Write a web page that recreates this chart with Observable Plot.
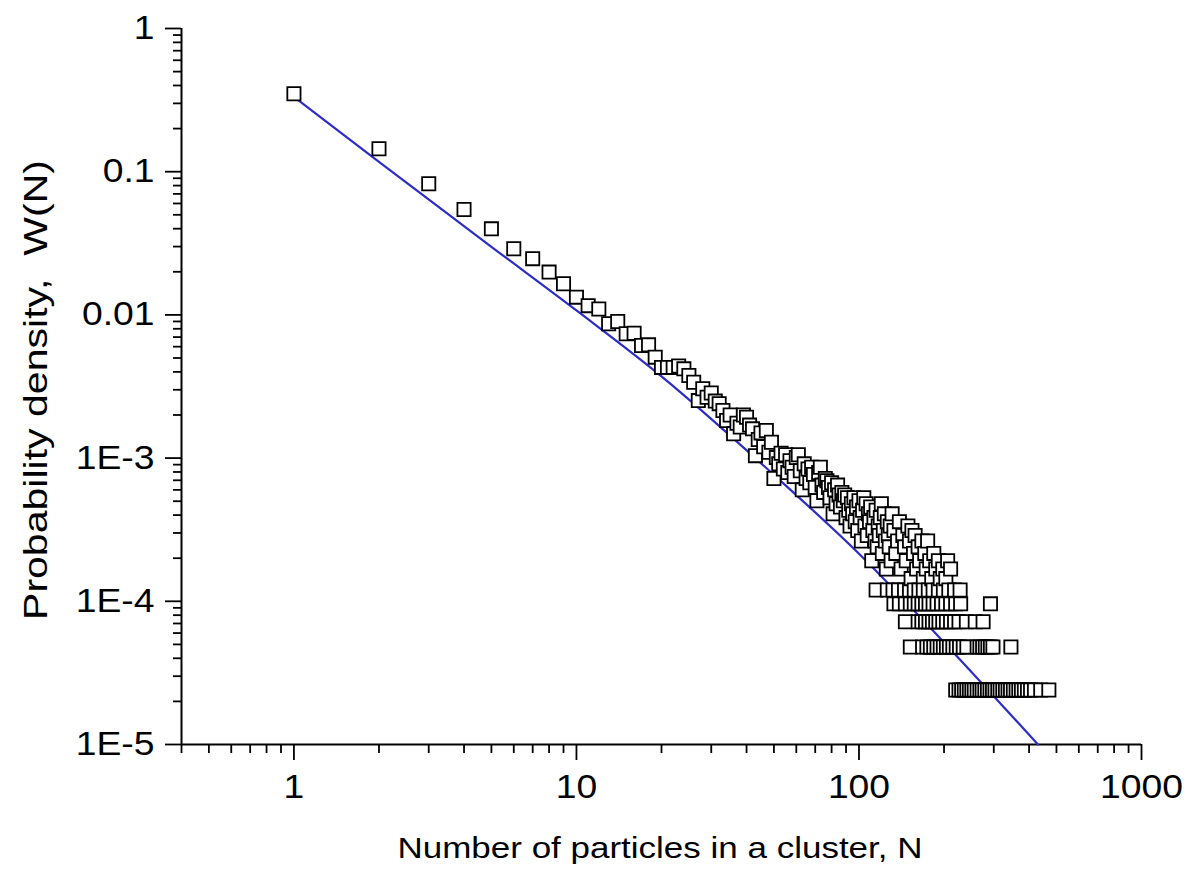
<!DOCTYPE html>
<html>
<head>
<meta charset="utf-8">
<script src="https://cdn.jsdelivr.net/npm/d3@7"></script>
<script src="https://cdn.jsdelivr.net/npm/@observablehq/plot@0.6"></script>
<style>
  html, body { margin: 0; padding: 0; background: white; }
  svg { display: block; }
</style>
</head>
<body>
<div id="chart"></div>
<script>
// ---- Data ----
// Small cluster sizes: individual probability densities
const lowN = [1,2,3,4,5,6,7,8,9,10,11,12,13,14,15,16,17,18,19,20,21,22,23,24,25,26,27,28,29,30,31,32,33,34,35,36,37,38,39,40,41,42,43,44,45,46,47,48,49];
const lowW = [0.350,0.1445,0.0823,0.0545,0.0399,0.0290,0.0247,0.0199,0.0165,0.0133,0.0116,0.0110,0.00867,0.0090,0.00738,0.00745,0.00611,0.00618,0.00507,0.0043,0.0043,0.0043,0.0044,0.0042,0.00377,0.00339,0.00252,0.00305,0.00266,0.00285,0.00250,0.00240,0.00215,0.00183,0.00200,0.00148,0.00175,0.00165,0.00200,0.00193,0.00170,0.00160,0.00104,0.00135,0.00150,0.00120,0.00156,0.00110,0.00129];

// Probability of a single observed cluster (quantum of W in the tail)
const unitW = 2.4e-5;

// Mid range: counts of clusters (W = count * unitW)
const midN = [50,51,52,53,54,55,56,57,58,59,60,61,62,63,64,65,66,67,68,69,70,71,72,73,74,75,76,77,78,79,80,81,82,83,84,85,86,87,88,89,90,91,92,93,94,95,96,97,98,99,100,101,102,103,104,105,106,107,108,109,110,111,112,113,114,115,116,117,118,119,120,121,122,123,124,125,126,127,128,129,130];
const midCount = [30,42,38,45,35,44,33,40,36,31,42,44,34,25,38,30,35,28,36,32,26,21,33,36,27,24,30,29,26,22,28,17,25,20,27,23,19,24,21,23,16,22,18,14,20,17,22,15,19,13,21,16,11,18,22,14,20,12,17,15,19,8,13,16,11,18,10,14,12,16,20,9,13,17,11,7,15,12,10,14,8];

const cloudN = [131,133,135,137,139,141,143,145,147,149,151,153,154,156,158,160,162,164,167,169,171,173,175,178,181,184,187,191,194,198,203,206,211];
const cloudCount = [17,13,9,11,15,7,12,10,8,14,11,6,13,9,12,7,10,8,11,6,9,7,11,8,6,9,7,8,6,7,6,8,7];

// Quantized tail rows: N values observed 1, 2, 3, 4, 5 times
const row1N = [220,226,231,236,241,246,251,256,262,268,273,279,285,291,297,303,310,316,323,330,337,344,352,360,368,376,385,395,405,418,440,470];
const row2N = [152,168,174,179,184,189,194,199,204,209,215,221,227,234,241,262,268,274,280,286,292,298,345];
const row3N = [146,162,167,172,177,182,187,192,198,204,211,218,226,240,258,275];
const row4N = [133,139,146,152,157,162,167,172,177,183,189,196,203,211,220,229,292];
const row5N = [115,126,132,138,145,151,157,163,169,176,183,191,199,208,218,228];

// Fitted curve (blue)
const fitN = [1, 2, 5, 10, 20, 50, 100, 200, 430];
const fitW = [0.333, 0.117, 0.0299, 0.01074, 0.00372, 7.64e-4, 2.15e-4, 5.16e-5, 1.0e-5];

// Axis ticks
const xMajor = [1, 10, 100, 1000];
const xMinor = [0.4,0.5,0.6,0.7,0.8,0.9,2,3,4,5,6,7,8,9,20,30,40,50,60,70,80,90,200,300,400,500,600,700,800,900];
const yMajor = [1, 0.1, 0.01, 1e-3, 1e-4, 1e-5];
const yMajorLabels = ["1", "0.1", "0.01", "1E-3", "1E-4", "1E-5"];
const yMinor = [2,3,4,5,6,7,8,9].flatMap(m => [1e-5, 1e-4, 1e-3, 1e-2, 1e-1].map(d => m * d));

const xTitle = "Number of particles in a cluster, N";
const yTitle = "Probability density,  W(N)";

// ---- Build tables ----
const points = [];
lowN.forEach((n, i) => points.push({N: n, W: lowW[i]}));
midN.forEach((n, i) => points.push({N: n, W: midCount[i] * unitW}));
cloudN.forEach((n, i) => points.push({N: n, W: cloudCount[i] * unitW}));
[[row1N, 1], [row2N, 2], [row3N, 3], [row4N, 4], [row5N, 5]].forEach(([arr, c]) =>
  arr.forEach(n => points.push({N: n, W: c * unitW})));
points.sort((a, b) => a.N - b.N);

const fit = fitN.map((n, i) => ({N: n, W: fitW[i]}));

const font = "'Liberation Sans', Arial, sans-serif";

const chart = Plot.plot({
  width: 1187,
  height: 869,
  marginTop: 28,
  marginBottom: 125,
  marginLeft: 181,
  marginRight: 46,
  x: {type: "log", domain: [0.4, 1000]},
  y: {type: "log", domain: [1e-5, 1]},
  style: {fontFamily: font, fontSize: "33px", color: "black", background: "white", overflow: "visible"},
  marks: [
    Plot.axisX(xMinor, {tickSize: 9, strokeWidth: 1.8, tickFormat: () => "", label: null}),
    Plot.axisX(xMajor, {tickSize: 16, strokeWidth: 1.8, tickPadding: 14, tickFormat: d => String(d), label: null, fontSize: 33}),
    Plot.axisY(yMinor, {tickSize: 8, strokeWidth: 1.8, tickFormat: () => "", label: null}),
    Plot.axisY(yMajor, {tickSize: 16, strokeWidth: 1.8, tickPadding: 11, tickFormat: d => yMajorLabels[yMajor.indexOf(d)], label: null, fontSize: 33}),
    Plot.ruleY([1e-5], {stroke: "black", strokeWidth: 2}),
    Plot.ruleX([0.4], {stroke: "black", strokeWidth: 2}),
    Plot.line(fit, {x: "N", y: "W", stroke: "#2c2cc8", strokeWidth: 2.2, curve: "catmull-rom"}),
    Plot.dot(points, {x: "N", y: "W", symbol: "square", r: 7.45, fill: "white", stroke: "black", strokeWidth: 1.8})
  ]
});

document.getElementById("chart").appendChild(chart);

// Tick labels in the reference are slightly wider than Arial: stretch them a bit
d3.select(chart).selectAll('g[aria-label="x-axis tick label"] text, g[aria-label="y-axis tick label"] text').each(function() {
  const w = this.getComputedTextLength();
  if (w > 0) {
    this.setAttribute("textLength", (w * 1.13).toFixed(1));
    this.setAttribute("lengthAdjust", "spacingAndGlyphs");
  }
});

// Axis titles
const svg = d3.select(chart);
svg.append("text")
  .attr("x", 660)
  .attr("y", 858)
  .attr("text-anchor", "middle")
  .attr("font-family", font)
  .attr("font-size", 30)
  .attr("textLength", 525)
  .attr("lengthAdjust", "spacingAndGlyphs")
  .attr("fill", "black")
  .text(xTitle);

svg.append("text")
  .attr("transform", "translate(47,390) rotate(-90)")
  .attr("text-anchor", "middle")
  .attr("font-family", font)
  .attr("font-size", 33)
  .attr("textLength", 460)
  .attr("lengthAdjust", "spacingAndGlyphs")
  .attr("fill", "black")
  .text(yTitle);
</script>
</body>
</html>
